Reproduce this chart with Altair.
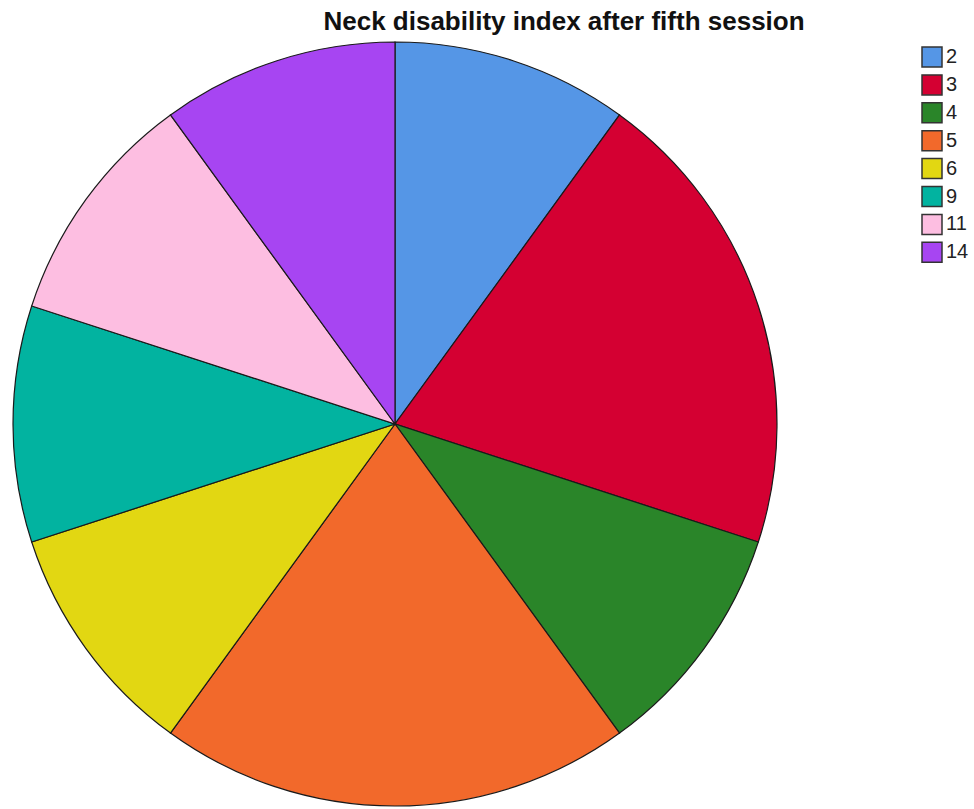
import altair as alt
import pandas as pd

categories = ["2", "3", "4", "5", "6", "9", "11", "14"]
counts = [1, 2, 1, 2, 1, 1, 1, 1]
colors = ["#5596E6", "#D40032", "#2A8529", "#F2692B", "#E2D712", "#02B3A0", "#FDBEE1", "#A745F2"]
title_text = "Neck disability index after fifth session"

df = pd.DataFrame({"cat": categories, "count": counts, "ord": list(range(len(categories)))})

arc = alt.Chart(df).mark_arc(stroke="#1a1a1a", strokeWidth=1.2).encode(
    theta=alt.Theta("count:Q", stack=True),
    order=alt.Order("ord:Q"),
    color=alt.Color(
        "cat:N",
        sort=categories,
        scale=alt.Scale(domain=categories, range=colors),
        legend=alt.Legend(
            title=None,
            orient="none",
            legendX=921,
            legendY=46,
            symbolType="square",
            symbolSize=400,
            symbolStrokeColor="#333333",
            symbolStrokeWidth=1.5,
            symbolOpacity=1,
            labelFontSize=20,
            labelFont="Liberation Sans",
            labelColor="#222222",
            labelOffset=3,
            rowPadding=1.9,
        ),
    ),
    x=alt.value(395),
    y=alt.value(424),
    radius=alt.value(382),
)

tdf = pd.DataFrame({"t": [title_text]})
title = alt.Chart(tdf).mark_text(
    font="Liberation Sans", fontSize=26, fontWeight="bold", color="#111111",
    align="center", baseline="alphabetic"
).encode(text="t:N", x=alt.value(564), y=alt.value(30))

chart = alt.layer(arc, title).properties(
    width=974, height=809, autosize="none", padding=0
).configure_view(stroke=None)

chart.save("out.html", embed_options={"renderer": "svg", "actions": False})
